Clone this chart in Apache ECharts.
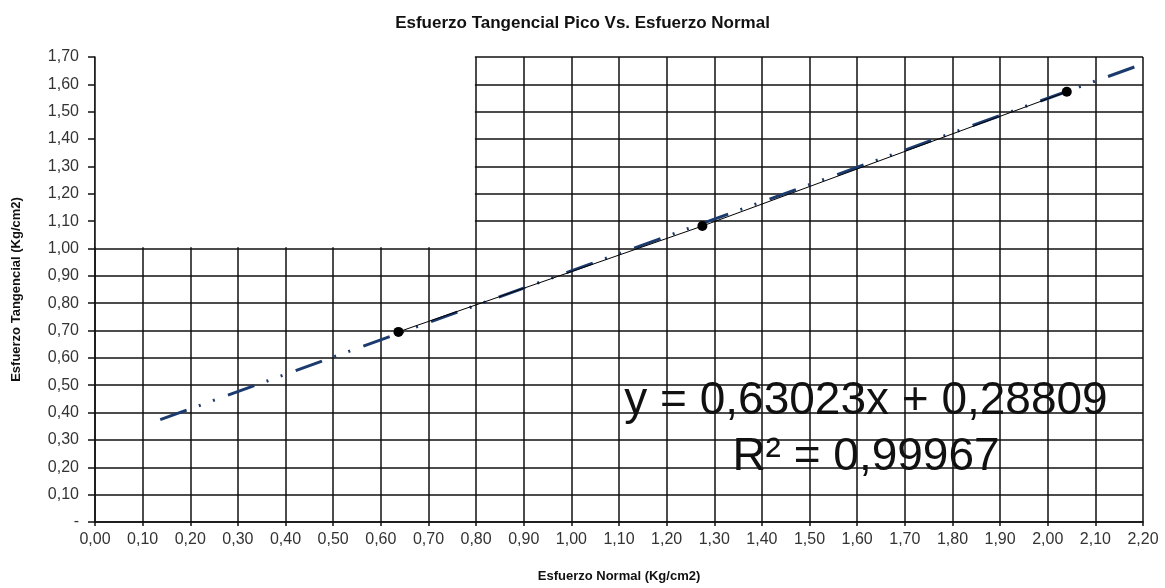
<!DOCTYPE html>
<html>
<head>
<meta charset="utf-8">
<title>Esfuerzo Tangencial Pico Vs. Esfuerzo Normal</title>
<script src="https://cdn.jsdelivr.net/npm/echarts@6/dist/echarts.min.js"></script>
<style>
  html, body { margin: 0; padding: 0; background: #fff; }
  #main { width: 1165px; height: 588px; }
</style>
</head>
<body>
<div id="main"></div>
<script>
// puntos del ensayo (esfuerzo normal, esfuerzo tangencial pico)
var puntos = [[0.637, 0.695], [1.275, 1.082], [2.040, 1.573]];
// extremos de la linea de tendencia
var tendencia = [[0.137, 0.374], [2.20, 1.675]];
// zona sin cuadricula (arriba a la izquierda): esquina sup. izq. y esquina inf. der.
var zonaVacia = [[0, 1.7], [0.8, 1.0]];
var ecuacion = 'y = 0,63023x + 0,28809';
var r2 = 'R² = 0,99967';

var FONT = '"Liberation Sans", Arial, sans-serif';
var LINEA = '#111';

function fmt(v) {
    if (Math.abs(v) < 1e-9) return '-';
    return v.toFixed(2).replace('.', ',');
}

var chart = echarts.init(document.getElementById('main'));
chart.setOption({
    backgroundColor: '#fff',
    animation: false,
    title: {
        text: 'Esfuerzo Tangencial Pico Vs. Esfuerzo Normal',
        left: 'center',
        top: 10,
        textStyle: { fontFamily: FONT, fontSize: 17, fontWeight: 'bold', color: '#111' }
    },
    grid: {
        left: 95, right: 22, top: 57, bottom: 66,
        containLabel: false,
        outerBoundsMode: 'none'
    },
    xAxis: {
        type: 'value',
        min: 0, max: 2.2, interval: 0.1,
        name: 'Esfuerzo Normal (Kg/cm2)',
        nameLocation: 'middle',
        nameGap: 48,
        nameTextStyle: { fontFamily: FONT, fontSize: 13, fontWeight: 'bold', color: '#111' },
        axisLine: { lineStyle: { color: LINEA, width: 1.5 } },
        axisTick: { show: true, length: 4, lineStyle: { color: LINEA, width: 1.5 } },
        axisLabel: {
            fontFamily: FONT, fontSize: 16, color: '#333', margin: 10,
            showMinLabel: true, showMaxLabel: true, hideOverlap: false,
            formatter: function (v) { return v.toFixed(2).replace('.', ','); }
        },
        splitLine: { show: true, lineStyle: { color: LINEA, width: 1.5 } }
    },
    yAxis: [
        {
            // cuadricula horizontal
            type: 'value',
            min: 0, max: 1.7, interval: 0.1,
            axisLine: { show: false },
            axisTick: { show: false },
            axisLabel: { show: false },
            splitLine: { show: true, lineStyle: { color: LINEA, width: 1.5 } }
        },
        {
            // eje visible, encima de la mascara blanca
            type: 'value',
            min: 0, max: 1.7, interval: 0.1,
            position: 'left',
            z: 5,
            name: 'Esfuerzo Tangencial (Kg/cm2)',
            nameLocation: 'middle',
            nameGap: 72,
            nameRotate: 90,
            nameTextStyle: { fontFamily: FONT, fontSize: 13, fontWeight: 'bold', color: '#111' },
            axisLine: { show: true, lineStyle: { color: LINEA, width: 1.5 } },
            axisTick: { show: true, length: 7, lineStyle: { color: LINEA, width: 1.5 } },
            axisLabel: {
                fontFamily: FONT, fontSize: 16, color: '#333', margin: 16,
                showMinLabel: true, showMaxLabel: true, hideOverlap: false,
                formatter: fmt
            },
            splitLine: { show: false }
        }
    ],
    graphic: {
        elements: [{
            id: 'ecuacion',
            type: 'text',
            x: 866,
            y: 373,
            z: 10,
            style: {
                text: ecuacion + '\n' + r2,
                fontFamily: FONT,
                fontSize: 46,
                lineHeight: 56,
                fill: '#111',
                align: 'center',
                verticalAlign: 'top'
            }
        }]
    },
    series: [
        {
            name: 'Tendencia',
            type: 'line',
            data: tendencia,
            symbol: 'none',
            z: 3,
            lineStyle: { color: '#1b3a6e', width: 3, type: [28, 13, 2, 13, 2, 14], cap: 'butt' }
        },
        {
            name: 'Ensayo',
            type: 'line',
            data: puntos,
            symbol: 'circle',
            symbolSize: 10,
            z: 4,
            itemStyle: { color: '#000' },
            lineStyle: { color: '#000', width: 1 }
        }
    ]
});

// mascara blanca sobre la cuadricula, calculada con las escalas del grafico
var a = chart.convertToPixel({ gridIndex: 0 }, zonaVacia[0]);
var b = chart.convertToPixel({ gridIndex: 0 }, zonaVacia[1]);
chart.setOption({
    graphic: {
        elements: [{
            id: 'mascara',
            type: 'rect',
            z: 1,
            silent: true,
            shape: {
                x: a[0],
                y: a[1] - 2,
                width: (b[0] - 1.2) - a[0],
                height: (b[1] - 1.2) - (a[1] - 2)
            },
            style: { fill: '#fff' }
        }]
    }
});
</script>
</body>
</html>
